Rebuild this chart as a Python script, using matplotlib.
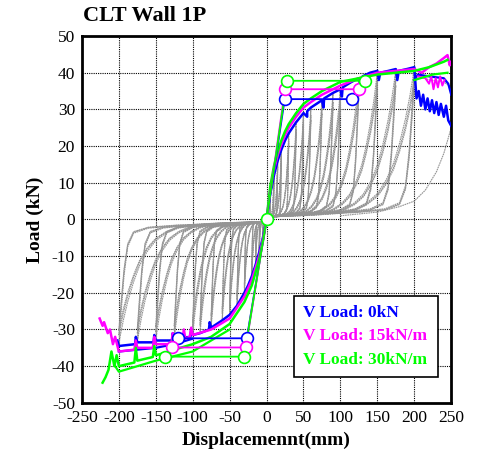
import numpy as np
import matplotlib.pyplot as plt

plt.rcParams['font.family'] = ['Liberation Serif', 'DejaVu Serif']
plt.rcParams['axes.unicode_minus'] = False

cyc_disp = [5, 10, 15, 20, 30, 40, 50, 60, 75, 90, 100, 125, 150, 175, 200]
cyc_pos_load = [7, 12, 16, 19, 23.5, 26.5, 29, 30.5, 32.5, 34.5, 35.5, 38.5, 40.5, 41, 41.5]
cyc_neg_load = [-5, -9, -12.5, -15.5, -20, -23.5, -26, -27.5, -29.5, -31, -31.5, -32.5, -33, -33.5, -34]
cyc_repeat = [1.0, 0.93, 0.89]

# normalised loop shape (fraction of peak displacement / peak load)
rel_u = [0.0, 0.3, 0.5, 0.6, 0.68, 0.75, 0.81, 0.86, 0.9, 0.94, 0.97, 0.99, 1.0]
rel_v = [0.02, 0.03, 0.045, 0.07, 0.11, 0.17, 0.26, 0.37, 0.5, 0.66, 0.81, 0.93, 1.0]
unl_u = [1.0, 0.985, 0.965, 0.94, 0.9, 0.8, 0.6, 0.3, 0.0]
unl_v = [1.0, 0.75, 0.45, 0.22, 0.11, 0.07, 0.05, 0.04, 0.02]

# last grey reloading beyond 200 mm
tail_x = [100, 150, 180, 200, 215, 230, 240, 250]
tail_y = [1, 2, 3.5, 5, 8, 13, 18, 25]
top_x = [200, 220, 240, 250]
top_y = [40, 38, 37.5, 36]

# envelopes, V load 0 kN
blue_pos_x = [0, 5, 10, 15, 20, 25, 30, 40, 50, 55, 55, 60, 75, 77, 78, 90, 100, 102, 103, 115, 125, 128, 130,
              140, 150, 152, 154, 165, 175, 177, 179, 190, 200, 203, 206, 209, 212, 215, 218, 221, 224, 227, 230,
              233, 236, 240, 243, 246, 250]
blue_pos_y = [0, 7, 12, 16, 19, 21.5, 23.5, 26.5, 29, 28, 29.5, 30.5, 32.5, 30.5, 33, 34.5, 35.5, 33.5, 36, 37.5,
              38.5, 36.5, 39, 40, 40.5, 38, 40, 40.5, 41, 38, 40.5, 41, 41.5, 33, 35, 31, 34, 30, 33, 29.5, 32.5,
              29, 32, 28.5, 31.5, 28, 31, 27, 25.5]
blue_top_x = [200, 205, 220, 240, 246, 250]
blue_top_y = [38, 39.5, 39, 38.5, 37, 34]
blue_neg_x = [0, -5, -10, -15, -20, -25, -30, -40, -50, -60, -75, -77, -78, -90, -100, -102, -103, -125, -127, -128,
              -150, -152, -153, -175, -177, -178, -200, -202]
blue_neg_y = [0, -5, -9, -12.5, -15.5, -18, -20, -23.5, -26, -27.5, -29.5, -28, -30, -31, -31.5, -30, -32, -32.5,
              -31, -33, -33, -31.5, -33.5, -33.5, -32, -34, -34.5, -33]
blue_low_x = [-100, -125, -150, -175, -200]
blue_low_y = [-32.5, -34, -35, -35.5, -36]

# V load 15 kN/m
mag_pos_x = [0, 5, 10, 15, 20, 25, 30, 40, 50, 60, 75, 90, 100, 125, 150, 175, 200, 210, 220, 230, 240, 245, 248, 250]
mag_pos_y = [0, 8, 13.5, 17.5, 20.5, 23, 25, 28, 30.5, 32, 34, 35.5, 36.5, 38.5, 40, 40.5, 41, 40, 41.5, 42.5, 44,
             44.8, 42, 43]
mag_wig_x = [205, 215, 220, 223, 226, 229, 232, 235, 238, 241]
mag_wig_y = [39, 38.5, 37, 39, 35.5, 38.5, 36, 39, 36.5, 38]
mag_neg_x = [0, -5, -10, -20, -30, -50, -75, -100, -102, -104, -110, -112, -114, -125, -127, -129, -150, -152, -154,
             -175, -177, -179, -200, -205, -208, -212, -215, -220, -222, -226]
mag_neg_y = [0, -5.5, -10, -16.5, -21, -27, -30, -31.5, -29.5, -32, -32.5, -30, -33, -33.5, -31, -34, -34, -32,
             -35, -35, -33, -35.5, -36, -32, -34, -30, -31, -28, -29, -27]

# V load 30 kN/m
grn_pos_x = [0, 5, 10, 15, 20, 25, 30, 40, 50, 60, 75, 90, 100, 125, 150, 175, 200, 220, 240, 245]
grn_pos_y = [0, 9, 14.5, 18.5, 21.5, 24, 26, 29, 31.5, 33, 35, 36.5, 37.5, 38.5, 39.5, 40, 40.5, 41.5, 43, 43.5]
grn_top_x = [200, 225, 245]
grn_top_y = [38, 39.5, 40]
grn_neg_x = [0, -5, -10, -20, -30, -50, -75, -100, -125, -127, -129, -150, -152, -154, -175, -177, -179, -200,
             -203, -206, -210, -214, -218, -222]
grn_neg_y = [0, -6, -11, -18, -22.5, -28.5, -32, -34, -35.5, -33, -36, -37, -34.5, -37.5, -38.5, -35, -39, -40,
             -37, -40, -36, -41, -43, -44.5]
grn_low_x = [-50, -100, -150, -200, -205]
grn_low_y = [-30, -36, -38.5, -41.5, -40]

# bilinear models: origin, yield point, ultimate point
bil_pos_x = {'b': [24.6, 116], 'm': [25, 125.7], 'g': [27.4, 133.5]}
bil_pos_y = {'b': [32.8, 32.8], 'm': [35.5, 35.5], 'g': [37.8, 37.8]}
bil_neg_x = {'b': [-26.8, -119.5], 'm': [-28.2, -128.5], 'g': [-30.5, -137.5]}
bil_neg_y = {'b': [-32.4, -32.4], 'm': [-34.9, -34.9], 'g': [-37.4, -37.4]}

legend_labels = ['V Load: 0kN', 'V Load: 15kN/m', 'V Load: 30kN/m']
colors = {'b': '#0000FF', 'm': '#FF00FF', 'g': '#00FF00'}

fig = plt.figure(figsize=(4.79, 4.62), dpi=100)
ax = fig.add_axes([0.171, 0.128, 0.771, 0.794])

# grey hysteresis loops
grey = '#949494'
gls = (0, (1.5, 0.6))
for dp, fp, fn in zip(cyc_disp, cyc_pos_load, cyc_neg_load):
    for r in cyc_repeat:
        xs, ys = [], []
        for u, v in zip(rel_u, rel_v):
            xs.append(u * dp); ys.append(v * fp * r)
        for u, v in zip(unl_u, unl_v):
            xs.append(u * dp); ys.append(v * fp * r)
        for u, v in zip(rel_u, rel_v):
            xs.append(-u * dp); ys.append(v * fn * r)
        for u, v in zip(unl_u, unl_v):
            xs.append(-u * dp); ys.append(v * fn * r)
        ax.plot(xs, ys, color=grey, lw=0.8, ls=gls, zorder=2)
ax.plot(tail_x, tail_y, color=grey, lw=0.8, ls=gls, zorder=2)
ax.plot(top_x, top_y, color=grey, lw=0.8, ls=gls, zorder=2)

# envelope curves
ax.plot(blue_pos_x, blue_pos_y, color=colors['b'], lw=1.8, zorder=3)
ax.plot(blue_top_x, blue_top_y, color=colors['b'], lw=1.6, zorder=3)
ax.plot(blue_neg_x, blue_neg_y, color=colors['b'], lw=1.8, zorder=3)
ax.plot(blue_low_x, blue_low_y, color=colors['b'], lw=1.6, zorder=3)
ax.plot(mag_pos_x, mag_pos_y, color=colors['m'], lw=1.8, zorder=3)
ax.plot(mag_wig_x, mag_wig_y, color=colors['m'], lw=1.4, zorder=3)
ax.plot(mag_neg_x, mag_neg_y, color=colors['m'], lw=1.8, zorder=3)
ax.plot(grn_pos_x, grn_pos_y, color=colors['g'], lw=1.8, zorder=3)
ax.plot(grn_top_x, grn_top_y, color=colors['g'], lw=1.6, zorder=3)
ax.plot(grn_neg_x, grn_neg_y, color=colors['g'], lw=1.8, zorder=3)
ax.plot(grn_low_x, grn_low_y, color=colors['g'], lw=1.6, zorder=3)

# bilinear lines with open circles
for k in ['b', 'm', 'g']:
    c = colors[k]
    for bx, by in [(bil_pos_x[k], bil_pos_y[k]), (bil_neg_x[k], bil_neg_y[k])]:
        ax.plot([0, bx[0], bx[1]], [0, by[0], by[1]], color=c, lw=1.3, zorder=4)
        ax.plot(bx, by, 'o', ms=8.5, mfc='white', mec=c, mew=1.2, zorder=5)
ax.plot([0], [0], 'o', ms=8.5, mfc='white', mec=colors['g'], mew=1.2, zorder=5)

ax.set_xlim(-250, 250)
ax.set_ylim(-50, 50)
ax.set_xticks(np.arange(-250, 251, 50))
ax.set_yticks(np.arange(-50, 51, 10))
ax.grid(True, color='black', ls=(0, (1, 1)), lw=0.8)
ax.set_axisbelow(True)
ax.tick_params(labelsize=12.5, length=0, pad=5)
for s in ax.spines.values():
    s.set_linewidth(2)

ax.set_xlabel('Displacemennt(mm)', fontsize=14, fontweight='bold', labelpad=4)
ax.set_ylabel('Load (kN)', fontsize=14, fontweight='bold', labelpad=6)
fig.text(0.173, 0.965, 'CLT Wall 1P', fontsize=16, fontweight='bold', va='center', ha='left')

# legend box
leg_box = plt.Rectangle((0.575, 0.0705), 0.39, 0.222, transform=ax.transAxes, facecolor='white',
                        edgecolor='black', lw=1.2, zorder=6)
ax.add_patch(leg_box)
for i, (lab, k) in enumerate(zip(legend_labels, ['b', 'm', 'g'])):
    ax.text(0.6, 0.245 - i * 0.064, lab, transform=ax.transAxes, color=colors[k], fontsize=12.5,
            fontweight='bold', va='center', ha='left', zorder=7)

fig.savefig('out.png', dpi=100)
